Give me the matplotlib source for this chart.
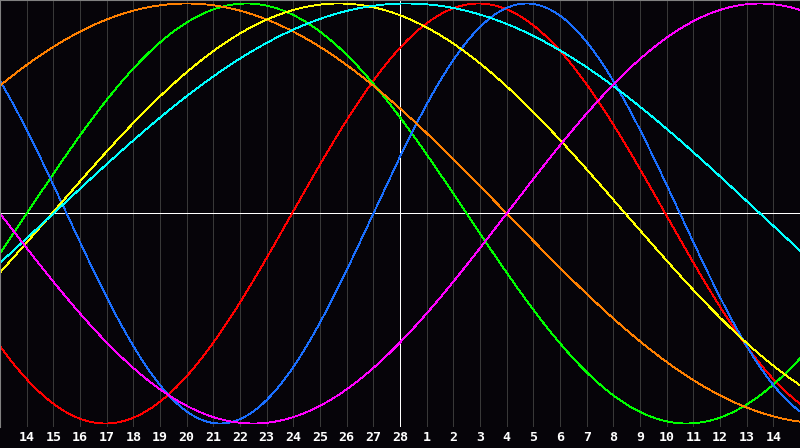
import numpy as np
import matplotlib
matplotlib.use("Agg")
import matplotlib.pyplot as plt

# biorhythm cycles: period in days, day index of upward zero crossing
periods = [28, 33, 23, 48, 43, 53, 38]
zero_up = [10.95, 1.0, 14.0, -5.0, 1.95, 2.0, 19.0]
colors = ['#ff0000', '#00ff00', '#1a6fff', '#ff8000', '#ffff00', '#00ffff', '#ff00ff']

day_labels = [14, 15, 16, 17, 18, 19, 20, 21, 22, 23, 24, 25, 26, 27, 28,
              1, 2, 3, 4, 5, 6, 7, 8, 9, 10, 11, 12, 13, 14]
today_index = 15
n_cols = 30

bg = '#060409'
fig = plt.figure(figsize=(8, 4.48), dpi=100, facecolor=bg)
ax = fig.add_axes([0, 21 / 448, 1, 427 / 448], facecolor=bg)

ticks = np.arange(1, len(day_labels) + 1)
for t in ticks:
    c = '#ffffff' if t == today_index else '#383838'
    ax.axvline(t, color=c, lw=0.6, antialiased=False, zorder=1)
ax.axhline(0, color='#ffffff', lw=0.6, antialiased=False, zorder=1)

x = np.linspace(0, n_cols, 1601)
for p, z, c in zip(periods, zero_up, colors):
    y = np.sin(2 * np.pi * (x - z) / p)
    ax.plot(x, y, color=c, lw=0.6, antialiased=False, zorder=2)

ax.set_xlim(0, n_cols)
ax.set_ylim(-213.5 / 210, 213.5 / 210)
ax.set_xticks(ticks)
ax.set_xticklabels([str(d) for d in day_labels], color='white',
                   fontfamily='DejaVu Sans Mono', fontweight='bold', fontsize=9.5)
ax.tick_params(axis='x', length=0, pad=3)
ax.set_yticks([])
for side in ['bottom', 'right']:
    ax.spines[side].set_visible(False)
for side in ['left', 'top']:
    ax.spines[side].set_color('#808080')
    ax.spines[side].set_linewidth(0.8)

fig.savefig('out.png', dpi=100, facecolor=bg)
